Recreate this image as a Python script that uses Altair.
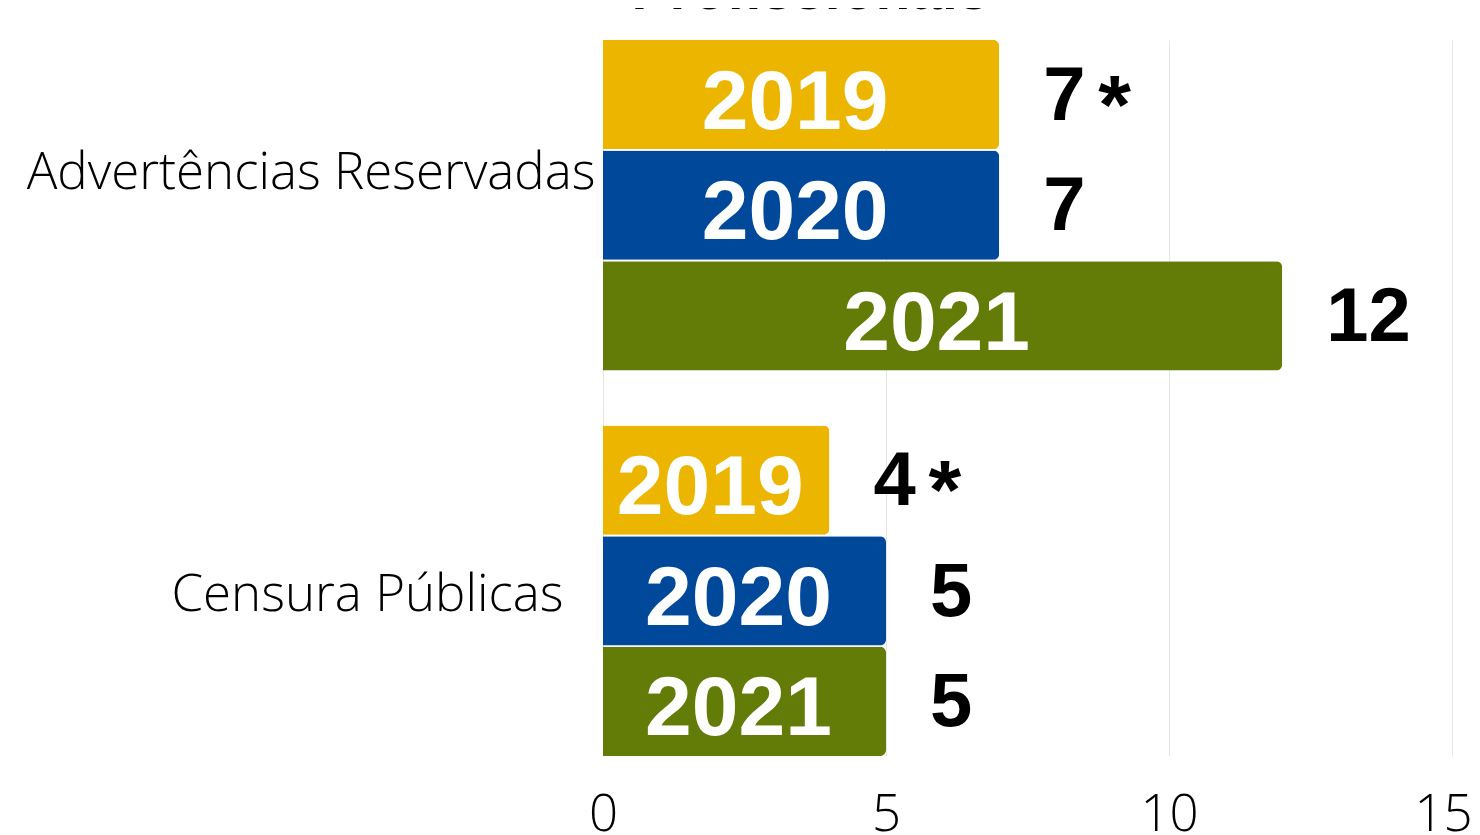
import altair as alt
import pandas as pd

categories = ["Advertências Reservadas", "Advertências Reservadas", "Advertências Reservadas",
              "Censura Públicas", "Censura Públicas", "Censura Públicas"]
years = ["2019", "2020", "2021", "2019", "2020", "2021"]
values = [7, 7, 12, 4, 5, 5]
stars = ["*", "", "", "*", "", ""]
year_domain = ["2019", "2020", "2021"]
year_colors = ["#EBB500", "#00499A", "#637B07"]
x_ticks = [0, 5, 10, 15]

df = pd.DataFrame({"category": categories, "year": years, "value": values, "star": stars})

y_scale = alt.Scale(paddingInner=0.143, paddingOuter=0)
yoff_scale = alt.Scale(paddingInner=0.012)
x_scale = alt.Scale(domain=[0, 15], nice=False)

x_axis = alt.Axis(
    values=x_ticks, title=None, domain=False, ticks=False, tickSize=0,
    grid=True, gridColor="#e6e6e6", gridWidth=1,
    labelFont="Open Sans", labelFontWeight=300, labelFontSize=51,
    labelColor="#000000", labelPadding=34, labelFlush=False,
    labelOffset={"condition": {"test": "datum.value == 15", "value": -9}, "value": 0})
y_axis = alt.Axis(
    title=None, domain=False, ticks=False, tickSize=0, grid=False,
    labelFont="Open Sans", labelFontWeight=300, labelFontSize=51,
    labelColor="#000000", labelLimit=0,
    labelPadding={"condition": {"test": "indexof(datum.value, 'Adv') == 0", "value": 8}, "value": 40},
    labelOffset={"condition": {"test": "indexof(datum.value, 'Adv') == 0", "value": -31}, "value": 5})

base = alt.Chart(df)

def enc_y():
    return alt.Y("category:N", scale=y_scale, sort=None, axis=y_axis)

def enc_yoff():
    return alt.YOffset("year:N", scale=yoff_scale, sort=year_domain)

bars = base.mark_bar(cornerRadiusEnd=6).encode(
    x=alt.X("value:Q", scale=x_scale, axis=x_axis),
    y=enc_y(),
    yOffset=enc_yoff(),
    color=alt.Color("year:N", scale=alt.Scale(domain=year_domain, range=year_colors), legend=None),
)

year_text = base.transform_calculate(mid="datum.value / 2").mark_text(
    color="white", font="Liberation Sans", fontWeight="bold", fontSize=84, dy=9, dx=-6
).encode(
    x=alt.X("mid:Q", scale=x_scale, axis=x_axis),
    y=enc_y(),
    yOffset=enc_yoff(),
    text="year:N",
)

value_text = base.mark_text(
    color="black", font="Liberation Sans", fontWeight="bold", fontSize=76,
    align="left", dx=44, dy=2
).encode(
    x=alt.X("value:Q", scale=x_scale, axis=x_axis),
    y=enc_y(),
    yOffset=enc_yoff(),
    text="value:Q",
)

star_text = base.transform_filter("datum.star == '*'").mark_text(
    color="black", font="Liberation Sans", fontWeight="bold", fontSize=84,
    align="left", dx=99, dy=14
).encode(
    x=alt.X("value:Q", scale=x_scale, axis=x_axis),
    y=enc_y(),
    yOffset=enc_yoff(),
    text="star:N",
)

chart = alt.layer(bars, year_text, value_text, star_text).properties(
    width=849,
    height=716,
    autosize=alt.AutoSizeParams(type="none"),
    padding={"left": 595, "top": 32, "right": 20, "bottom": 76},
    title=alt.TitleParams("Profissionais", anchor="middle", frame="group", dx=-217, dy=40,
                          offset=2, baseline="bottom", fontSize=57,
                          font="Liberation Sans", fontWeight="bold", color="black"),
).configure_view(stroke=None)

chart.save("out.html", embed_options={"renderer": "svg", "actions": False})
